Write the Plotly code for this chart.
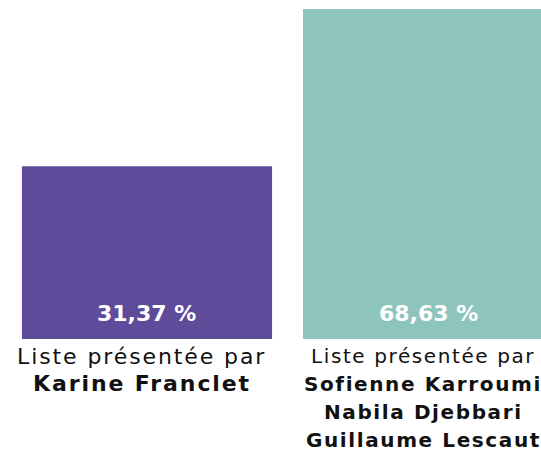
import plotly.graph_objects as go

categories = ["Karine Franclet", "Sofienne Karroumi"]
extra_names = [[], ["Nabila Djebbari", "Guillaume Lescaut"]]
values = [31.37, 68.63]
colors = ["#5E4C9A", "#8DC5BE"]
label_prefix = "Liste présentée par"

value_texts = [f"{v:.2f}".replace(".", ",") + " %" for v in values]
x = list(range(len(categories)))

fig = go.Figure()
fig.add_trace(go.Bar(
    x=x, y=values, width=0.89,
    marker=dict(color=colors, line=dict(width=0)),
    hoverinfo="skip",
))

FONT = "DejaVu Sans, sans-serif"
ann = []
val_xshift = [0, 0]
for i, t in enumerate(value_texts):
    ann.append(dict(
        x=i, y=0, xref="x", yref="y", text=f"<b>{t}</b>", showarrow=False,
        xanchor="center", yanchor="middle", yshift=26, xshift=val_xshift[i],
        font=dict(family=FONT, size=22, color="white"),
    ))

sizes = [22, 20]
spacings = [1.9, 1.6]
line_gap = [27, 28]
lab_xshift = [-5, -5]
for i, c in enumerate(categories):
    lines = [(label_prefix, False), (c, True)] + [(n, True) for n in extra_names[i]]
    for j, (txt, bold) in enumerate(lines):
        body = f"<span style='letter-spacing:{spacings[i]}px'>{txt}</span>"
        if bold:
            body = f"<b>{body}</b>"
        ann.append(dict(
            x=i, y=0, xref="x", yref="y", text=body, showarrow=False,
            xanchor="center", yanchor="middle",
            yshift=-(17 + j * line_gap[i]), xshift=lab_xshift[i],
            font=dict(family=FONT, size=sizes[i], color="#111111"),
        ))

fig.update_layout(
    width=541, height=453,
    margin=dict(l=0, r=0, t=9, b=114),
    paper_bgcolor="white", plot_bgcolor="white",
    showlegend=False,
    xaxis=dict(range=[-0.523, 1.402], visible=False, fixedrange=True),
    yaxis=dict(range=[0, 59.9], visible=False, fixedrange=True),
    annotations=ann,
)
fig.write_html(
    "out.html",
    config={"displayModeBar": False},
    post_script="document.body.style.margin='0';document.body.style.overflow='hidden';",
)
